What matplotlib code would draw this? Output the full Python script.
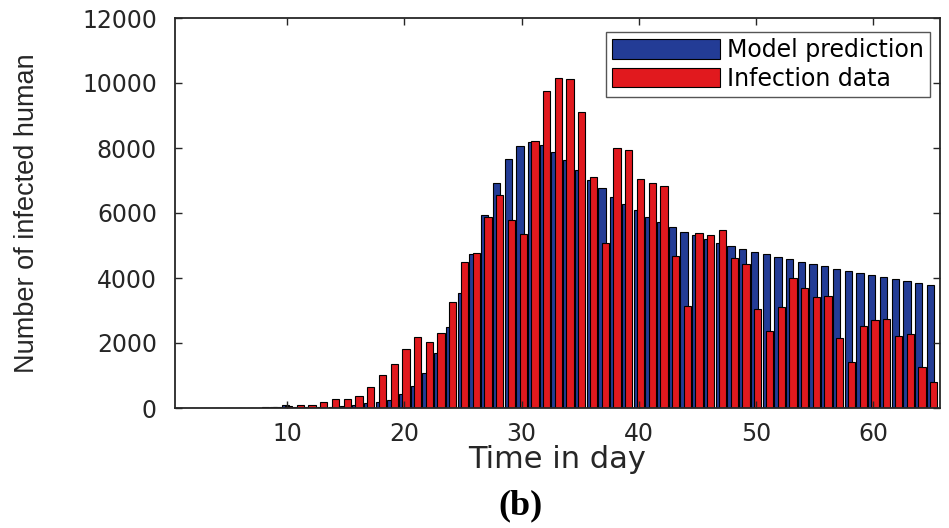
import numpy as np
import matplotlib.pyplot as plt

# dias 1..65
dias = np.arange(1, 66)

modelo = [0, 0, 0, 0, 5, 5, 10, 10, 20, 100,
          25, 30, 40, 45, 70, 100, 140, 185, 260, 430,
          690, 1090, 1680, 2500, 3550, 4750, 5930, 6930, 7670, 8060,
          8170, 8100, 7890, 7620, 7330, 7030, 6760, 6500, 6280, 6080,
          5880, 5720, 5575, 5430, 5310, 5205, 5090, 4990, 4900, 4815,
          4730, 4650, 4570, 4500, 4425, 4355, 4280, 4220, 4150, 4090,
          4025, 3965, 3905, 3840, 3780]

dados = [0, 0, 0, 5, 5, 10, 15, 20, 35, 70,
         80, 100, 190, 265, 280, 355, 640, 1025, 1340, 1805,
         2175, 2030, 2300, 3260, 4490, 4780, 5890, 6540, 5790, 5340,
         8230, 9740, 10150, 10130, 9110, 7110, 5080, 8000, 7930, 7060,
         6910, 6830, 4670, 3130, 5390, 5320, 5480, 4610, 4440, 3060,
         2370, 3110, 3985, 3700, 3410, 3450, 2160, 1430, 2510, 2710,
         2750, 2220, 2280, 1270, 805]

xticks = [10, 20, 30, 40, 50, 60]
yticks = [0, 2000, 4000, 6000, 8000, 10000, 12000]

azul = '#233C96'
vermelho = '#E1191E'
cinza = '#262626'

fig = plt.figure(figsize=(9.49, 5.28), dpi=100)
ax = fig.add_axes([175/949, 1 - 408/528, 765/949, 390/528])

ax.bar(dias - 0.14, modelo, width=0.62, color=azul, edgecolor='black',
       linewidth=0.8, label='Model prediction')
ax.bar(dias + 0.14, dados, width=0.62, color=vermelho, edgecolor='black',
       linewidth=0.8, label='Infection data')

ax.set_xlim(0.45, 65.68)
ax.set_ylim(0, 12000)
ax.set_xticks(xticks)
ax.set_yticks(yticks)

ax.tick_params(direction='in', length=5, width=1, top=True, right=True,
               colors=cinza, labelsize=17)
ax.tick_params(axis='y', pad=13)
ax.tick_params(axis='x', pad=10)
for s in ax.spines.values():
    s.set_color(cinza)
    s.set_linewidth(1.3)

ax.set_ylabel('Number of infected human', fontsize=19.5, color=cinza,
              family=['Liberation Sans Narrow', 'Liberation Sans'])
ax.yaxis.set_label_coords(-0.176, 0.5)
ax.set_xlabel('Time in day', fontsize=22, color=cinza)
ax.xaxis.set_label_coords(0.5, -0.095)

leg = ax.legend(loc='upper right', bbox_to_anchor=(0.987, 0.964),
                borderaxespad=0, fontsize=17, fancybox=False,
                framealpha=1, edgecolor='#555555', handlelength=4.6,
                handleheight=0.9, labelspacing=0.2, handletextpad=0.3,
                borderpad=0.25)
leg.get_frame().set_linewidth(1.0)

fig.text(521/949, 1 - 506/528, '(b)', fontsize=26, fontweight='bold',
         family='Liberation Serif', ha='center', va='center')

fig.savefig('out.png', dpi=100)
